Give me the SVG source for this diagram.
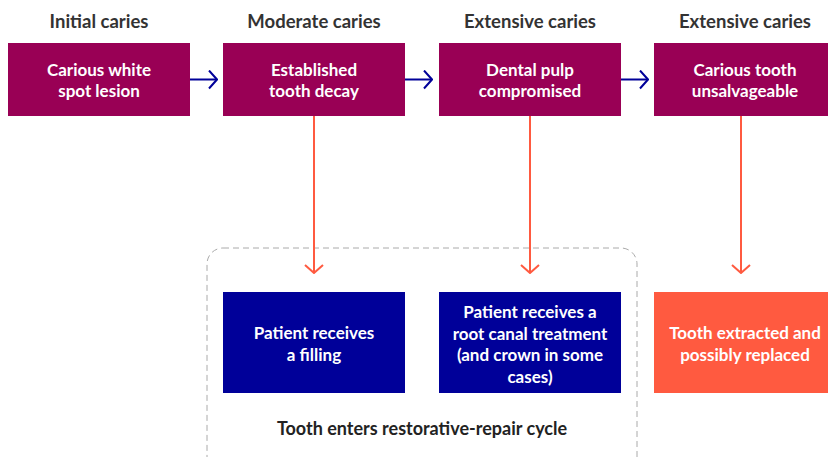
<svg xmlns="http://www.w3.org/2000/svg" width="828" height="457" viewBox="0 0 828 457">
<style>
.hdr{font-family:Lato,"Liberation Sans",sans-serif;font-weight:700;font-size:18.5px;fill:#333;text-anchor:middle}
.t{font-family:Lato,"Liberation Sans",sans-serif;font-weight:700;font-size:17px;fill:#fff;text-anchor:middle}
.cap{font-family:Lato,"Liberation Sans",sans-serif;font-weight:700;font-size:18px;fill:#222;text-anchor:middle}
.top{fill:#990055}
.blue{fill:#000099}
.orange{fill:#FF5A40}
.nav{stroke:#000099;stroke-width:2;fill:none}
.org{stroke:#FF5A40;stroke-width:2;fill:none}
</style>
<defs>
<marker id="ah-n" viewBox="0 0 10 20" refX="9" refY="10" markerWidth="10" markerHeight="20" markerUnits="userSpaceOnUse" orient="auto">
<path d="M1,1 L9,10 L1,19" fill="none" stroke="#000099" stroke-width="2"/>
</marker>
<marker id="ah-o" viewBox="0 0 10 20" refX="9" refY="10" markerWidth="10" markerHeight="20" markerUnits="userSpaceOnUse" orient="auto">
<path d="M1,1 L9,10 L1,19" fill="none" stroke="#FF5A40" stroke-width="2"/>
</marker>
</defs>
<rect width="828" height="457" fill="#fff"/>
<g id="cycle">
<rect x="207" y="248" width="430" height="230" rx="16" fill="none" stroke="#aaa" stroke-width="1" stroke-dasharray="6,4"/>
<text class="cap" x="422" y="435">Tooth enters restorative-repair cycle</text>
</g>
<g id="h1"><text class="hdr" x="99" y="28">Initial caries</text></g>
<g id="h2"><text class="hdr" x="314" y="28">Moderate caries</text></g>
<g id="h3"><text class="hdr" x="530" y="28">Extensive caries</text></g>
<g id="h4"><text class="hdr" x="745" y="28">Extensive caries</text></g>
<g id="n1"><rect class="top" x="8" y="43" width="182" height="73"/><text class="t" x="99" y="76">Carious white</text><text class="t" x="99" y="97">spot lesion</text></g>
<g id="n2"><rect class="top" x="223" y="43" width="182" height="73"/><text class="t" x="314" y="76">Established</text><text class="t" x="314" y="97">tooth decay</text></g>
<g id="n3"><rect class="top" x="439" y="43" width="182" height="73"/><text class="t" x="530" y="76">Dental pulp</text><text class="t" x="530" y="97">compromised</text></g>
<g id="n4"><rect class="top" x="654" y="43" width="182" height="73"/><text class="t" x="745" y="76">Carious tooth</text><text class="t" x="745" y="97">unsalvageable</text></g>
<g id="b1"><rect class="blue" x="223" y="292" width="182" height="101"/><text class="t" x="314" y="339">Patient receives</text><text class="t" x="314" y="361">a filling</text></g>
<g id="b2"><rect class="blue" x="439" y="292" width="182" height="101"/><text class="t" x="530" y="318">Patient receives a</text><text class="t" x="530" y="339.5">root canal treatment</text><text class="t" x="530" y="361">(and crown in some</text><text class="t" x="530" y="382.5">cases)</text></g>
<g id="b3"><rect class="orange" x="654" y="292" width="182" height="101"/><text class="t" x="745" y="339">Tooth extracted and</text><text class="t" x="745" y="361">possibly replaced</text></g>
<g id="connectors">
<line class="nav" x1="190" y1="79.5" x2="217" y2="79.5" marker-end="url(#ah-n)"/>
<line class="nav" x1="405" y1="79.5" x2="432" y2="79.5" marker-end="url(#ah-n)"/>
<line class="nav" x1="621" y1="79.5" x2="648" y2="79.5" marker-end="url(#ah-n)"/>
<line class="org" x1="314" y1="116" x2="314" y2="273" marker-end="url(#ah-o)"/>
<line class="org" x1="530" y1="116" x2="530" y2="273" marker-end="url(#ah-o)"/>
<line class="org" x1="741" y1="116" x2="741" y2="273" marker-end="url(#ah-o)"/>
</g>
</svg>
